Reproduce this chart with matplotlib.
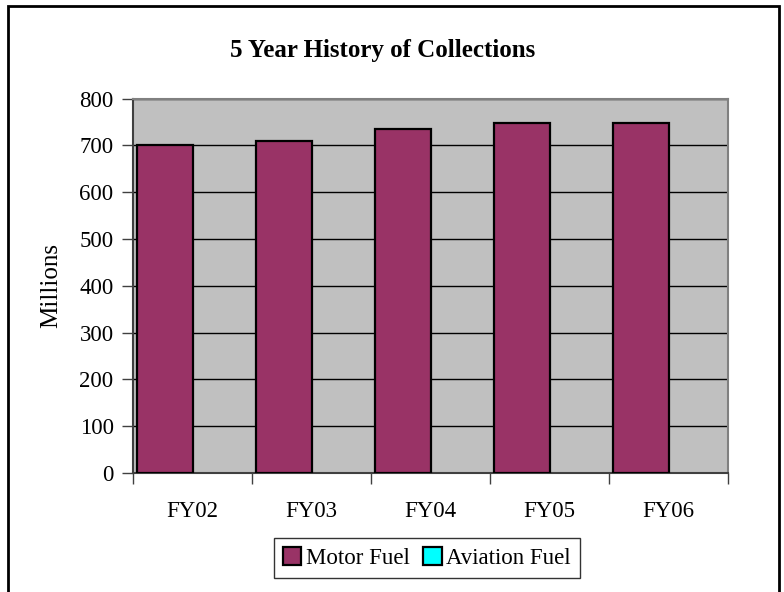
import numpy as np
import matplotlib
matplotlib.use('Agg')
import matplotlib.pyplot as plt
from matplotlib.patches import Rectangle, Patch

# data (millions)
years       = ['FY02', 'FY03', 'FY04', 'FY05', 'FY06']
motor_fuel  = [701, 709, 734, 747, 748]
aviation    = [0, 0, 0, 0, 0]
yticks      = [0, 100, 200, 300, 400, 500, 600, 700, 800]

plt.rcParams['font.family'] = ['Liberation Serif', 'DejaVu Serif']

W, H = 784, 592
fig = plt.figure(figsize=(W/100, H/100), dpi=100)

# plot area in pixel coords
px_l, px_r, px_t, px_b = 133, 728, 98.5, 473
ax = fig.add_axes([px_l/W, 1 - px_b/H, (px_r-px_l)/W, (px_b-px_t)/H])
ax.set_facecolor('#C0C0C0')

x     = np.arange(len(years)) + 0.5
bar_w = 0.47
ax.bar(x - bar_w, motor_fuel, width=bar_w, align='edge', color='#993366',
       edgecolor='black', linewidth=1.6, zorder=3)
# aviation values are zero: no visible outline on the axis
ax.bar(x, aviation, width=bar_w, align='edge', color='#00FFFF',
       edgecolor='black', linewidth=0, zorder=3)

ax.set_xlim(0, len(years))
ax.set_ylim(0, 800)
ax.set_yticks(yticks)
ax.set_yticklabels([str(v) for v in yticks])
ax.yaxis.grid(True, color='black', linewidth=1.0, zorder=1)
ax.set_axisbelow(True)

ax.set_xticks(np.arange(len(years)+1))
ax.set_xticklabels([])
ax.set_xticks(x, minor=True)
ax.set_xticklabels(years, minor=True)
ax.tick_params(axis='x', which='major', length=8, width=1, color='#404040', direction='out')
ax.tick_params(axis='x', which='minor', length=0, pad=20, labelsize=16.5)
ax.tick_params(axis='y', length=8, width=1, color='#404040', direction='out', labelsize=16.5, pad=6)

for s in ['top', 'right']:
    ax.spines[s].set_color('#808080')
    ax.spines[s].set_linewidth(1.5)
for s in ['left', 'bottom']:
    ax.spines[s].set_color('#404040')
    ax.spines[s].set_linewidth(1.5)

ax.set_ylabel('Millions', fontsize=18, labelpad=12)
fig.text(0.5 - 0.012, 1 - 50/H, '5 Year History of Collections', ha='center', va='center',
         fontsize=18, fontweight='bold')

handles = [Patch(facecolor='#993366', edgecolor='black', linewidth=1.6),
           Patch(facecolor='#00FFFF', edgecolor='black', linewidth=1.6)]
leg = fig.legend(handles, ['Motor Fuel', 'Aviation Fuel'], loc='center',
                 bbox_to_anchor=(427/W, 1 - 558/H), ncol=2,
                 fontsize=16.5, frameon=True, fancybox=False, edgecolor='black',
                 handlelength=0.8, handleheight=0.8, handletextpad=0.2,
                 columnspacing=0.6, borderpad=0.4)
leg.get_frame().set_linewidth(1.0)

# chart area border
fig.add_artist(Rectangle((8/W, -0.01), (779-8)/W, 1 - 6/H + 0.01, transform=fig.transFigure,
                         fill=False, edgecolor='black', linewidth=2.0))

fig.savefig('out.png', dpi=100)
